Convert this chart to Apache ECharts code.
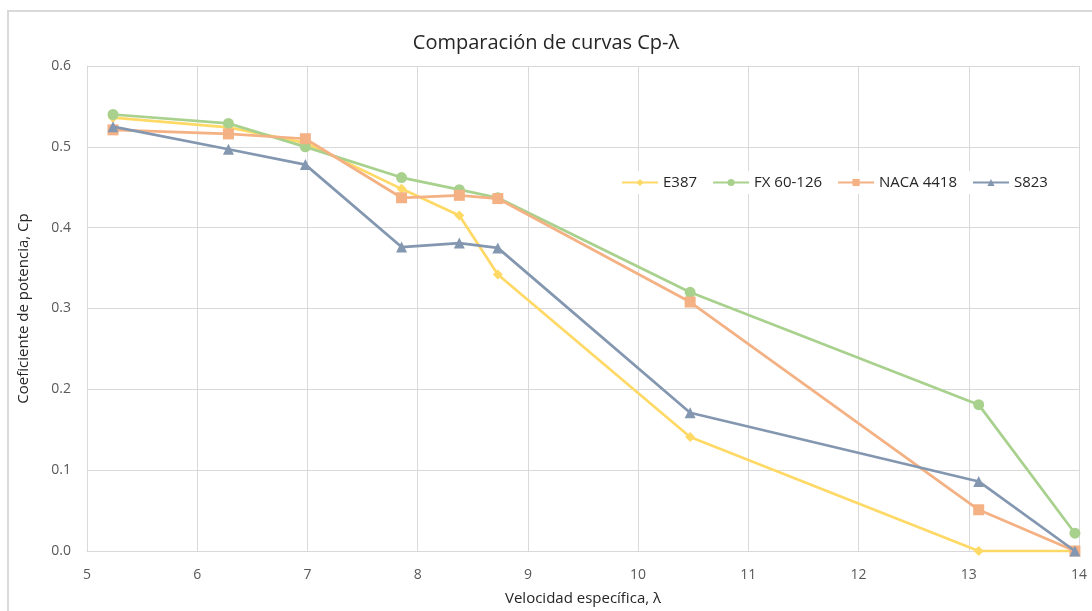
<!DOCTYPE html>
<html>
<head>
<meta charset="utf-8">
<script src="https://cdn.jsdelivr.net/npm/echarts@6/dist/echarts.min.js"></script>
<style>
  html, body { margin: 0; padding: 0; background: #fff; overflow: hidden; width: 1092px; height: 611px; }
  #frame { position: absolute; left: 7px; top: 10px; width: 1090px; height: 610px; border: 2px solid #d9d9d9; box-sizing: border-box; }
  #chart { position: absolute; left: 0; top: 0; width: 1092px; height: 611px; }
</style>
</head>
<body>
<div id="frame"></div>
<div id="chart"></div>
<script>
// Tip speed ratios (λ) tested
const lambda = [5.236, 6.283, 6.981, 7.854, 8.378, 8.727, 10.472, 13.09, 13.963];

// Power coefficient Cp per airfoil
const e387    = [0.536, 0.524, 0.505, 0.448, 0.415, 0.342, 0.141, 0.000, 0.000];
const fx60126 = [0.540, 0.529, 0.500, 0.462, 0.447, 0.437, 0.320, 0.181, 0.022];
const naca4418 = [0.521, 0.516, 0.510, 0.437, 0.440, 0.436, 0.308, 0.051, 0.000];
const s823    = [0.525, 0.497, 0.478, 0.376, 0.381, 0.375, 0.171, 0.086, 0.000];

const seriesNames = ['E387', 'FX 60-126', 'NACA 4418', 'S823'];
const seriesData = [e387, fx60126, naca4418, s823];
const colors = ['#FFD966', '#A9D18E', '#F4B183', '#8497B0'];
const symbols = ['diamond', 'circle', 'rect', 'triangle'];
const symbolSizes = [10, 11, 11, 11];

const font = '"Open Sans", "Noto Sans", sans-serif';

const chart = echarts.init(document.getElementById('chart'));
chart.setOption({
  animation: false,
  color: colors,
  title: {
    text: 'Comparación de curvas Cp-λ',
    left: 'center',
    top: 28,
    textStyle: { fontFamily: font, fontSize: 20, fontWeight: 'normal', color: '#262626' }
  },
  legend: {
    data: seriesNames,
    left: 615,
    top: 171,
    itemGap: 15,
    itemWidth: 36,
    itemHeight: 9,
    padding: [4, 6],
    backgroundColor: '#fff',
    textStyle: { fontFamily: font, fontSize: 15, color: '#262626' }
  },
  grid: { left: 87, right: 13, top: 66, bottom: 60, containLabel: false, outerBoundsMode: 'none' },
  xAxis: {
    type: 'value',
    min: 5, max: 14, interval: 1,
    name: 'Velocidad específica, λ',
    nameLocation: 'middle',
    nameGap: 40,
    nameTextStyle: { fontFamily: font, fontSize: 15, color: '#262626' },
    axisLine: { show: true, lineStyle: { color: '#d9d9d9', width: 1 } },
    axisTick: { show: false },
    axisLabel: { fontFamily: font, fontSize: 14, color: '#595959', margin: 17 },
    splitLine: { show: true, lineStyle: { color: '#d9d9d9', width: 1 } }
  },
  yAxis: {
    type: 'value',
    min: 0, max: 0.6, interval: 0.1,
    name: 'Coeficiente de potencia, Cp',
    nameLocation: 'middle',
    nameGap: 56,
    nameRotate: 90,
    nameTextStyle: { fontFamily: font, fontSize: 15, color: '#262626' },
    axisLine: { show: true, lineStyle: { color: '#d9d9d9', width: 1 } },
    axisTick: { show: false },
    axisLabel: { fontFamily: font, fontSize: 14, color: '#595959', margin: 16,
      formatter: v => v.toFixed(1) },
    splitLine: { show: true, lineStyle: { color: '#d9d9d9', width: 1 } }
  },
  series: seriesNames.map((name, i) => ({
    name,
    type: 'line',
    data: lambda.map((x, j) => [x, seriesData[i][j]]),
    symbol: symbols[i],
    symbolSize: symbolSizes[i],
    showAllSymbol: true,
    lineStyle: { width: 2.75, color: colors[i] },
    itemStyle: { color: colors[i] },
    z: 2 + i
  }))
});
</script>
</body>
</html>
